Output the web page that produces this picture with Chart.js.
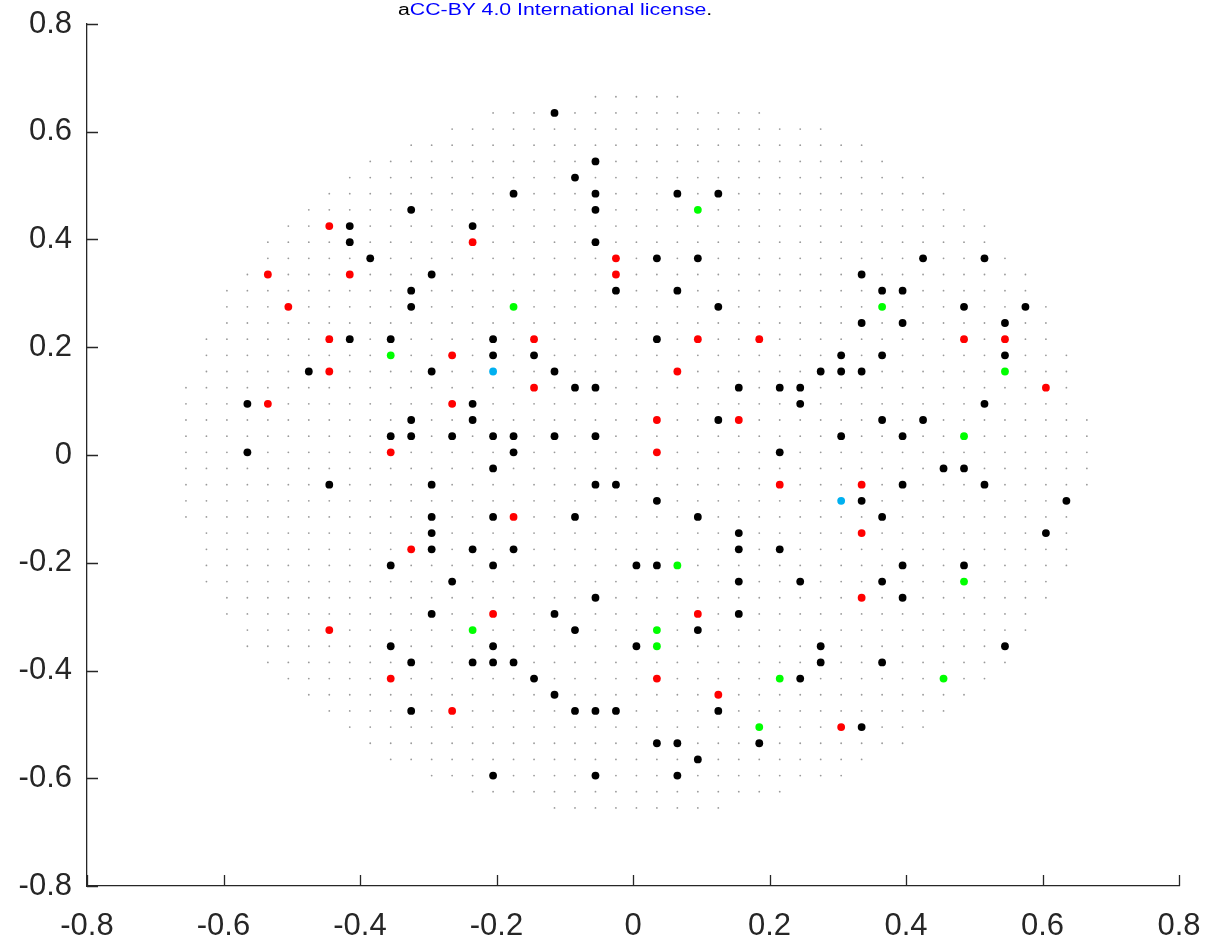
<!DOCTYPE html>
<html>
<head>
<meta charset="utf-8">
<script src="https://cdn.jsdelivr.net/npm/chart.js@4.4.1/dist/chart.umd.min.js"></script>
<style>
  html, body { margin: 0; padding: 0; background: #fff; }
  #wrap { position: relative; width: 1209px; height: 943px; }
  #license {
    position: absolute; left: 398px; top: 2px;
    font: 16px "Liberation Sans", Arial, sans-serif; line-height: 16px;
    color: #000; white-space: nowrap;
    transform: scaleX(1.33); transform-origin: left top;
  }
  #license span { color: #0000ff; }
</style>
</head>
<body>
<div id="wrap">
  <canvas id="chart" width="1209" height="943"></canvas>
  <div id="license">a<span>CC-BY 4.0 International license</span>.</div>
</div>
<script>
// Axes
const tickValues = [-0.8, -0.6, -0.4, -0.2, 0, 0.2, 0.4, 0.6, 0.8];
const tickLabels = ['-0.8', '-0.6', '-0.4', '-0.2', '0', '0.2', '0.4', '0.6', '0.8'];

// Sampling grid (small grey dots): one row per y, with its first and last x
const GRID_STEP = 0.03;
const gridRowY = [0.665, 0.635, 0.605, 0.575, 0.545, 0.515, 0.485, 0.455, 0.425, 0.395,
  0.365, 0.335, 0.305, 0.275, 0.245, 0.215, 0.185, 0.155, 0.125, 0.095, 0.065, 0.035,
  0.005, -0.025, -0.055, -0.085, -0.115, -0.145, -0.175, -0.205, -0.235, -0.265, -0.295,
  -0.325, -0.355, -0.385, -0.415, -0.445, -0.475, -0.505, -0.535, -0.565, -0.595, -0.625, -0.655];
const gridRowXMin = [-0.055, -0.205, -0.265, -0.325, -0.385, -0.415, -0.445, -0.475, -0.505, -0.535,
  -0.535, -0.565, -0.595, -0.595, -0.595, -0.625, -0.625, -0.625, -0.655, -0.655, -0.655, -0.655,
  -0.655, -0.655, -0.655, -0.655, -0.655, -0.625, -0.625, -0.625, -0.625, -0.595, -0.595,
  -0.565, -0.565, -0.535, -0.505, -0.475, -0.445, -0.415, -0.385, -0.355, -0.295, -0.235, -0.115];
const gridRowXMax = [0.065, 0.185, 0.275, 0.335, 0.365, 0.425, 0.455, 0.485, 0.515, 0.515,
  0.545, 0.575, 0.575, 0.605, 0.605, 0.605, 0.635, 0.635, 0.635, 0.635, 0.665, 0.665,
  0.665, 0.665, 0.665, 0.635, 0.635, 0.635, 0.635, 0.635, 0.605, 0.605, 0.575,
  0.575, 0.545, 0.545, 0.515, 0.485, 0.455, 0.425, 0.395, 0.335, 0.305, 0.215, 0.125];

// Marked positions
const blackX = [-0.325, -0.415, -0.235, -0.415, -0.385, -0.295, -0.325, -0.325,
  -0.115, -0.055, -0.085, -0.175, -0.055, 0.065, 0.125, -0.055, -0.055, 0.035, 0.095, -0.025, 0.065, 0.125,
  0.425, 0.515, 0.335, 0.365, 0.395, 0.485, 0.575, 0.335, 0.395, 0.545,
  -0.415, -0.355, -0.475, -0.295, -0.565, -0.235, -0.325, -0.235, -0.355, -0.325, -0.265, -0.565,
  -0.445, -0.295, -0.295, -0.295, -0.295, -0.235, -0.355,
  -0.205, 0.035, -0.205, -0.145, -0.115, -0.085, -0.055, 0.155, 0.215, 0.125, -0.205, -0.175, -0.115,
  -0.055, -0.175, 0.215, -0.205, -0.055, -0.025, 0.035, -0.205, -0.085, 0.095, 0.155, -0.175, 0.155,
  0.215, -0.205, 0.005, 0.035,
  0.305, 0.365, 0.545, 0.275, 0.305, 0.335, 0.245, 0.245, 0.515, 0.365, 0.425, 0.305, 0.395,
  0.455, 0.485, 0.395, 0.515, 0.335, 0.635, 0.365, 0.605, 0.395, 0.485,
  -0.265, -0.295, -0.355, -0.325, -0.235, -0.325,
  0.155, -0.055, -0.115, 0.155, -0.085, 0.095, -0.205, 0.005, -0.205, -0.175, -0.145, -0.115,
  -0.085, -0.055, -0.025, 0.125, 0.035, 0.065, 0.185, 0.095, -0.205, -0.055, 0.065,
  0.245, 0.365, 0.395, 0.275, 0.545, 0.275, 0.365, 0.245, 0.335];
const blackY = [0.455, 0.425, 0.425, 0.395, 0.365, 0.335, 0.305, 0.275,
  0.635, 0.545, 0.515, 0.485, 0.485, 0.485, 0.485, 0.455, 0.395, 0.365, 0.365, 0.305, 0.305, 0.275,
  0.365, 0.365, 0.335, 0.305, 0.305, 0.275, 0.275, 0.245, 0.245, 0.245,
  0.215, 0.215, 0.155, 0.155, 0.095, 0.095, 0.065, 0.065, 0.035, 0.035, 0.035, 0.005,
  -0.055, -0.055, -0.115, -0.145, -0.175, -0.175, -0.205,
  0.215, 0.215, 0.185, 0.185, 0.155, 0.125, 0.125, 0.125, 0.125, 0.065, 0.035, 0.035, 0.035,
  0.035, 0.005, 0.005, -0.025, -0.055, -0.055, -0.085, -0.115, -0.115, -0.115, -0.145, -0.175, -0.175,
  -0.175, -0.205, -0.205, -0.205,
  0.185, 0.185, 0.185, 0.155, 0.155, 0.155, 0.125, 0.095, 0.095, 0.065, 0.065, 0.035, 0.035,
  -0.025, -0.025, -0.055, -0.055, -0.085, -0.085, -0.115, -0.145, -0.205, -0.205,
  -0.235, -0.295, -0.355, -0.385, -0.385, -0.475,
  -0.235, -0.265, -0.295, -0.295, -0.325, -0.325, -0.355, -0.355, -0.385, -0.385, -0.415, -0.445,
  -0.475, -0.475, -0.475, -0.475, -0.535, -0.535, -0.535, -0.565, -0.595, -0.595, -0.595,
  -0.235, -0.235, -0.265, -0.355, -0.355, -0.385, -0.385, -0.415, -0.505];

const redX = [-0.445, -0.235, -0.535, -0.415, -0.505, -0.025, -0.025, -0.445, -0.265, -0.445,
  -0.535, -0.265, -0.355, -0.325, -0.145, 0.095, 0.185, 0.065, -0.145, 0.035, 0.155, 0.035,
  0.215, -0.175, 0.485, 0.545, 0.605, 0.335, 0.335, -0.445, -0.355, -0.265, -0.205, 0.095,
  0.035, 0.125, 0.335, 0.305];
const redY = [0.425, 0.395, 0.335, 0.335, 0.275, 0.365, 0.335, 0.215, 0.185, 0.155,
  0.095, 0.095, 0.005, -0.175, 0.215, 0.215, 0.215, 0.155, 0.125, 0.065, 0.065, 0.005,
  -0.055, -0.115, 0.215, 0.215, 0.125, -0.055, -0.145, -0.325, -0.415, -0.475, -0.295, -0.295,
  -0.415, -0.445, -0.265, -0.505];

const greenX = [0.095, -0.175, 0.365, -0.355, 0.545, 0.485, 0.065, -0.235, 0.035, 0.035,
  0.215, 0.185, 0.485, 0.455];
const greenY = [0.455, 0.275, 0.275, 0.185, 0.155, 0.035, -0.205, -0.325, -0.325, -0.355,
  -0.415, -0.505, -0.235, -0.415];

const cyanX = [-0.205, 0.305];
const cyanY = [0.155, -0.085];

// Build point lists for the library
const toPoints = (xs, ys) => xs.map((x, i) => ({ x: x, y: ys[i] }));
const gridPoints = [];
gridRowY.forEach((gy, r) => {
  const n = Math.round((gridRowXMax[r] - gridRowXMin[r]) / GRID_STEP);
  for (let k = 0; k <= n; k++) {
    gridPoints.push({ x: +(gridRowXMin[r] + k * GRID_STEP).toFixed(3), y: gy });
  }
});

const AXIS_COLOR = '#262626';
const FONT = { family: '"Liberation Sans", Arial, sans-serif', size: 31 };

function markSet(points, color, order) {
  return {
    data: points,
    backgroundColor: color,
    borderWidth: 0,
    pointRadius: 3.9,
    pointHoverRadius: 3.9,
    order: order
  };
}

// Ticks pointing into the plot, like the original
const innerTicks = {
  id: 'innerTicks',
  afterDraw(chart) {
    const { ctx, chartArea, scales } = chart;
    ctx.save();
    ctx.strokeStyle = AXIS_COLOR;
    ctx.lineWidth = 1.3;
    ctx.beginPath();
    tickValues.forEach(v => {
      const px = Math.round(scales.x.getPixelForValue(v)) + 0.5;
      ctx.moveTo(px, chartArea.bottom);
      ctx.lineTo(px, chartArea.bottom - 11);
      const py = Math.round(scales.y.getPixelForValue(v)) + 0.5;
      ctx.moveTo(chartArea.left, py);
      ctx.lineTo(chartArea.left + 11, py);
    });
    ctx.stroke();
    ctx.restore();
  }
};

function axis(position, fitSize) {
  return {
    type: 'linear',
    position: position,
    min: -0.8,
    max: 0.8,
    afterBuildTicks: s => { s.ticks = tickValues.map(v => ({ value: v })); },
    afterFit: s => {
      if (position === 'bottom') s.height = fitSize; else s.width = fitSize;
      // let the layout padding alone decide where the plot ends
      s.paddingTop = 0; s.paddingBottom = 0; s.paddingLeft = 0; s.paddingRight = 0;
    },
    ticks: {
      autoSkip: false,
      maxRotation: 0,
      padding: position === 'bottom' ? 22 : 15,
      color: AXIS_COLOR,
      font: FONT,
      callback: (v, i) => tickLabels[i]
    },
    grid: { display: false, drawTicks: false },
    border: { display: true, color: AXIS_COLOR, width: 1.3 }
  };
}

new Chart(document.getElementById('chart'), {
  type: 'scatter',
  data: {
    datasets: [
      markSet(toPoints(cyanX, cyanY), '#00b0f0', 1),
      markSet(toPoints(greenX, greenY), '#00ff00', 2),
      markSet(toPoints(redX, redY), '#ff0000', 3),
      markSet(toPoints(blackX, blackY), '#000000', 4),
      {
        data: gridPoints,
        backgroundColor: 'rgba(0,0,0,0.4)',
        borderWidth: 0,
        pointRadius: 0.9,
        pointHoverRadius: 0.9,
        order: 5
      }
    ]
  },
  options: {
    responsive: false,
    animation: false,
    events: [],
    layout: { padding: { left: 0, right: 30, top: 24, bottom: 0 } },
    plugins: { legend: { display: false }, tooltip: { enabled: false } },
    scales: {
      x: axis('bottom', 57),
      y: axis('left', 87)
    }
  },
  plugins: [innerTicks]
});
</script>
</body>
</html>
